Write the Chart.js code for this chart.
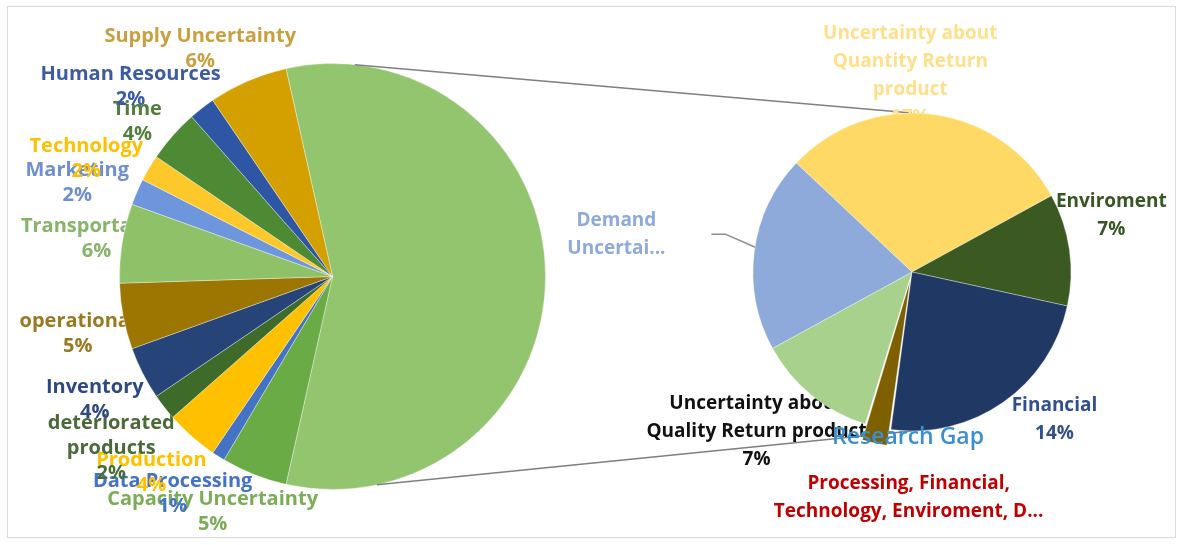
<!DOCTYPE html>
<html>
<head>
<meta charset="utf-8">
<script src="https://cdn.jsdelivr.net/npm/chart.js@4.4.1/dist/chart.umd.min.js"></script>
<style>
  html, body { margin: 0; padding: 0; background: #fff; }
  #wrap { position: relative; width: 1179px; height: 545px; overflow: hidden; background: #fff; }
  #frame { position: absolute; left: 7px; top: 6px; width: 1167px; height: 530px; border: 1px solid #d9d9d9; }
  canvas { position: absolute; left: 0; top: 0; }
</style>
</head>
<body>
<div id="wrap">
  <div id="frame"></div>
  <canvas id="main-pie" width="1179" height="545"></canvas>
  <canvas id="sub-pie" width="1179" height="545"></canvas>
</div>
<script>
// first pie: the "other" slice (57) is broken out into the second pie
const mainLabels = ['Other', 'Capacity Uncertainty', 'Data Processing', 'Production', 'deteriorated\nproducts',
    'Inventory', 'operational', 'Transportation', 'Marketing', 'Technology', 'Time', 'Human Resources', 'Supply Uncertainty'];
const mainValues = [57, 5, 1, 4, 2, 4, 5, 6, 2, 2, 4, 2, 6];

const subLabels = ['Uncertainty about\nQuantity Return\nproduct', 'Enviroment', 'Financial',
    'Processing, Financial,\nTechnology, Enviroment, D...', 'Uncertainty about\nQuality Return product', 'Demand\nUncertai...'];
const subValues = [17.1, 6.5, 13.5, 1.5, 7, 11.4];

const mainColors = ['#93c46e', '#6aab46', '#4472c4', '#ffc000', '#3f6b2a', '#264478', '#9c7600',
    '#8fc268', '#6d96dc', '#ffc82a', '#4e8a34', '#2f55a5', '#d4a000'];
const mainTextColors = [null, '#7aad55', '#4472c4', '#ffc000', '#4a6b38', '#2d4a80', '#9a7a20',
    '#86b46a', '#6f8fcf', '#ffc000', '#4f7f3a', '#3b5ba5', '#c9a040'];
const subColors = ['#ffd966', '#3a5a22', '#1f3864', '#7f6000', '#a9d18e', '#8eaadb'];
const subTextColors = ['#ffe08a', '#375623', '#2f4f8f', '#c00000', '#111111', '#8eaadb'];

// label placement: [angle nudge (deg), distance from centre, show percent]
const mainLabelLayout = [null, [5.4, 264], [3.9, 270], [1.3, 267], [0, 280], [-0.5, 268], [-1.8, 261],
    [0, 239], [-3.2, 272], [-5, 273], [-3, 249], [-9, 277], [-6.8, 263]];
const subLabelLayout = [[-7.8, 196], [-7.5, 207], [-9, 205], [-11.5, 226, false], [5, 223], [0, 298, false]];

function drawSliceLabels(chart, o) {
    const ctx = chart.ctx;
    const meta = chart.getDatasetMeta(0);
    const values = chart.data.datasets[0].data;
    ctx.save();
    ctx.font = o.font;
    ctx.textAlign = 'center';
    ctx.textBaseline = 'middle';
    meta.data.forEach((arc, i) => {
        const lay = o.layout[i];
        if (!lay) return;
        const p = arc.getProps(['x', 'y', 'startAngle', 'endAngle', 'outerRadius'], true);
        const mid = (p.startAngle + p.endAngle) / 2 + lay[0] * Math.PI / 180;
        const cx = p.x + Math.cos(mid) * lay[1];
        const cy = p.y + Math.sin(mid) * lay[1];
        const lines = chart.data.labels[i].split('\n');
        if (lay[2] !== false) lines.push(Math.round(values[i]) + '%');
        ctx.fillStyle = o.colors[i];
        const top = cy - (lines.length - 1) * o.lineHeight / 2;
        lines.forEach((t, k) => ctx.fillText(t, cx, top + k * o.lineHeight));
        if (o.leader === i) {
            // elbow leader line back to the slice
            const ex = p.x + Math.cos(mid) * p.outerRadius;
            const ey = p.y + Math.sin(mid) * p.outerRadius;
            ctx.strokeStyle = '#8c8c8c';
            ctx.lineWidth = 1.5;
            ctx.beginPath();
            ctx.moveTo(ex + 2, ey - 4);
            ctx.lineTo(cx + 109, cy);
            ctx.lineTo(cx + 95, cy);
            ctx.stroke();
        }
    });
    ctx.restore();
}

const sliceLabels = {
    id: 'sliceLabels',
    beforeDatasetsDraw(chart, args, opts) { drawSliceLabels(chart, opts); }
};

const mainChart = new Chart(document.getElementById('main-pie'), {
    type: 'pie',
    data: {
        labels: mainLabels,
        datasets: [{
            data: mainValues,
            backgroundColor: mainColors,
            borderColor: 'rgba(255,255,255,0.35)',
            borderWidth: 1
        }]
    },
    options: {
        responsive: false,
        animation: false,
        devicePixelRatio: 1,
        events: [],
        rotation: -12.6,
        layout: { padding: { left: 119, top: 63, right: 633, bottom: 55 } },
        plugins: {
            legend: { display: false },
            tooltip: { enabled: false },
            sliceLabels: { font: '700 20px "Open Sans"', lineHeight: 25, colors: mainTextColors, layout: mainLabelLayout }
        }
    },
    plugins: [sliceLabels]
});

// series lines between the pies, drawn under the second pie
const seriesLines = {
    id: 'seriesLines',
    beforeDatasetsDraw(chart) {
        const a = mainChart.getDatasetMeta(0).data[0];
        const b = chart.getDatasetMeta(0).data[0];
        const R = a.outerRadius, r = b.outerRadius;
        const ctx = chart.ctx;
        const pt = deg => [a.x + R * Math.sin(deg * Math.PI / 180), a.y - R * Math.cos(deg * Math.PI / 180)];
        const t = pt(6), u = pt(168);
        ctx.save();
        ctx.strokeStyle = '#7f7f7f';
        ctx.lineWidth = 1.5;
        ctx.beginPath();
        ctx.moveTo(t[0], t[1]); ctx.lineTo(b.x, b.y - r);
        ctx.moveTo(u[0], u[1]); ctx.lineTo(b.x, b.y + r);
        ctx.stroke();
        ctx.restore();
    },
    afterDraw(chart) {
        const b = chart.getDatasetMeta(0).data[0];
        const ctx = chart.ctx;
        ctx.save();
        ctx.font = '600 23px "Open Sans"';
        ctx.fillStyle = '#3a8fd0';
        ctx.textAlign = 'center';
        ctx.textBaseline = 'middle';
        ctx.fillText('Research Gap', b.x - 4, b.y + b.outerRadius + 6);
        ctx.restore();
    }
};

const subChart = new Chart(document.getElementById('sub-pie'), {
    type: 'pie',
    data: {
        labels: subLabels,
        datasets: [{
            data: subValues,
            backgroundColor: subColors,
            borderColor: 'rgba(255,255,255,0.35)',
            borderWidth: 1,
            offset: [0, 0, 0, 35, 0, 0]
        }]
    },
    options: {
        responsive: false,
        animation: false,
        devicePixelRatio: 1,
        events: [],
        rotation: -46.7,
        layout: { padding: { left: 735, top: 95, right: 90, bottom: 96 } },
        plugins: {
            legend: { display: false },
            tooltip: { enabled: false },
            sliceLabels: { font: '700 19px "Open Sans"', lineHeight: 28, colors: subTextColors, layout: subLabelLayout, leader: 5 }
        }
    },
    plugins: [seriesLines, sliceLabels]
});
</script>
</body>
</html>
